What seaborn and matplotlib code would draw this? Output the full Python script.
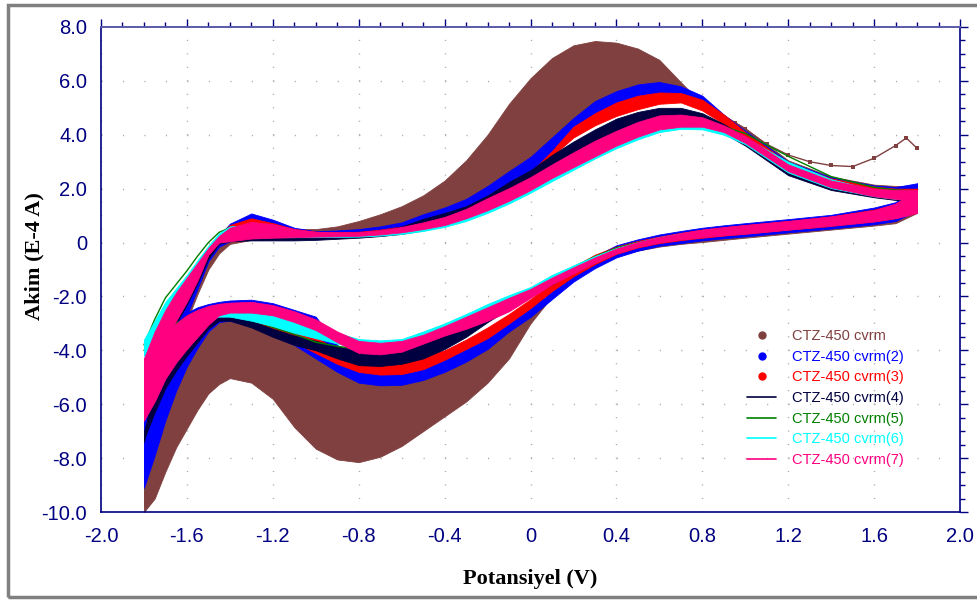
import matplotlib
import numpy as np
import seaborn as sns

matplotlib.use("Agg")
import matplotlib.pyplot as plt
from matplotlib.lines import Line2D
from matplotlib.patches import Rectangle
from matplotlib.ticker import MultipleLocator, FixedLocator, FixedFormatter

# potential grid (V) shared by every band edge
E = [-1.8, -1.75, -1.7, -1.65, -1.6, -1.55, -1.5, -1.45, -1.4, -1.3, -1.2, -1.1, -1.0,
     -0.9, -0.8, -0.7, -0.6, -0.5, -0.4, -0.3, -0.2, -0.1,
     0.0, 0.1, 0.2, 0.3, 0.4, 0.5, 0.6, 0.7, 0.8, 0.9,
     1.0, 1.2, 1.4, 1.6, 1.7, 1.8]

# current (E-4 A): upper (anodic) / lower (cathodic) branch, band top / bottom
c1_up_hi = [-7.0, -4.8, -3.3, -2.4, -1.6, -1.0, -0.5, 0.0, 0.4, 0.7, 0.6, 0.5, 0.5,
            0.6, 0.8, 1.05, 1.35, 1.75, 2.3, 3.05, 4.0, 5.15,
            6.1, 6.85, 7.32, 7.48, 7.42, 7.2, 6.78, 5.95, 5.15, 4.72,
            4.25, 3.05, 2.45, 2.15, 2.1, 2.1]
c1_up_lo = [-9.8, -7.5, -5.5, -4.0, -2.9, -1.9, -1.0, -0.4, -0.05, 0.1, 0.12, 0.12, 0.15,
            0.3, 0.4, 0.5, 0.65, 0.9, 1.2, 1.5, 1.9, 2.35,
            3.0, 3.65, 4.3, 4.85, 5.3, 5.6, 5.7, 5.5, 5.1, 4.5,
            3.9, 2.6, 2.0, 1.7, 1.62, 1.55]
c1_dn_hi = [-7.0, -5.6, -4.5, -3.8, -3.3, -3.0, -2.85, -2.8, -2.85, -3.1, -3.45, -3.75, -4.0,
            -4.5, -5.0, -5.1, -5.0, -4.8, -4.5, -4.1, -3.6, -3.05,
            -2.5, -1.85, -1.2, -0.75, -0.4, -0.15, 0.0, 0.1, 0.2, 0.28,
            0.35, 0.5, 0.65, 0.82, 0.95, 1.3]
c1_dn_lo = [-10.0, -9.5, -8.5, -7.6, -6.9, -6.2, -5.6, -5.25, -5.03, -5.2, -5.8, -6.85, -7.65,
            -8.05, -8.15, -7.95, -7.55, -7.0, -6.45, -5.9, -5.2, -4.3,
            -3.0, -2.0, -1.25, -0.8, -0.5, -0.3, -0.15, -0.05, 0.02, 0.1,
            0.18, 0.33, 0.48, 0.63, 0.72, 1.1]

c2_up_hi = [-6.6, -4.3, -3.0, -2.1, -1.5, -0.9, -0.3, 0.25, 0.7, 1.08, 0.85, 0.55, 0.42,
            0.45, 0.5, 0.6, 0.75, 1.05, 1.3, 1.62, 2.1, 2.65,
            3.18, 3.9, 4.62, 5.25, 5.62, 5.87, 5.96, 5.8, 5.45, 4.75,
            4.15, 3.0, 2.42, 2.12, 2.06, 2.2]
c2_up_lo = [-9.0, -6.5, -4.6, -3.5, -2.7, -1.7, -0.7, -0.15, 0.05, 0.15, 0.18, 0.2, 0.22,
            0.26, 0.3, 0.4, 0.55, 0.75, 1.0, 1.3, 1.6, 2.05,
            2.6, 3.3, 3.95, 4.45, 4.75, 5.05, 5.25, 5.25, 5.0, 4.45,
            3.8, 2.55, 2.0, 1.72, 1.62, 1.55]
c2_dn_hi = [-6.6, -4.6, -3.5, -3.0, -2.6, -2.4, -2.28, -2.2, -2.15, -2.12, -2.25, -2.5, -2.75,
            -3.8, -4.5, -4.6, -4.5, -4.4, -4.2, -3.8, -3.3, -2.8,
            -2.2, -1.5, -1.0, -0.5, -0.1, 0.12, 0.3, 0.43, 0.55, 0.64,
            0.72, 0.87, 1.03, 1.3, 1.5, 2.2]
c2_dn_lo = [-9.1, -7.9, -6.6, -5.5, -4.6, -3.9, -3.3, -2.95, -2.9, -3.1, -3.45, -3.8, -4.3,
            -4.8, -5.2, -5.3, -5.28, -5.1, -4.8, -4.42, -3.95, -3.3,
            -2.76, -2.1, -1.45, -0.95, -0.55, -0.3, -0.12, -0.02, 0.08, 0.16,
            0.23, 0.38, 0.52, 0.68, 0.8, 1.2]

c3_up_hi = [-6.2, -4.0, -2.9, -2.0, -1.4, -0.8, -0.25, 0.3, 0.65, 0.9, 0.72, 0.5, 0.4,
            0.38, 0.4, 0.48, 0.6, 0.78, 1.0, 1.3, 1.7, 2.1,
            2.6, 3.4, 4.3, 4.8, 5.2, 5.45, 5.57, 5.55, 5.3, 4.75,
            4.1, 2.95, 2.38, 2.08, 2.0, 2.0]
c3_up_lo = [-6.5, -5.0, -3.8, -2.9, -2.2, -1.4, -0.5, 0.0, 0.1, 0.2, 0.2, 0.2, 0.22,
            0.25, 0.3, 0.38, 0.45, 0.65, 0.8, 1.1, 1.4, 1.8,
            2.3, 3.2, 3.9, 4.35, 4.7, 4.95, 5.15, 5.2, 4.9, 4.4,
            3.75, 2.6, 2.02, 1.72, 1.63, 1.6]
c3_dn_hi = [-6.2, -4.6, -3.6, -3.0, -2.7, -2.5, -2.4, -2.3, -2.3, -2.35, -2.6, -3.0, -3.5,
            -4.0, -4.4, -4.45, -4.35, -4.2, -4.0, -3.6, -3.15, -2.65,
            -2.1, -1.5, -0.9, -0.45, -0.15, 0.06, 0.22, 0.36, 0.48, 0.57,
            0.65, 0.8, 0.97, 1.22, 1.42, 2.0]
c3_dn_lo = [-6.6, -5.8, -4.9, -4.2, -3.7, -3.3, -3.0, -2.85, -2.85, -3.0, -3.3, -3.7, -4.1,
            -4.5, -4.8, -4.9, -4.88, -4.7, -4.35, -3.95, -3.55, -3.0,
            -2.43, -1.8, -1.25, -0.8, -0.42, -0.18, -0.02, 0.09, 0.18, 0.26,
            0.33, 0.48, 0.62, 0.8, 0.92, 1.3]

c4_up_hi = [-7.2, -5.0, -3.4, -2.5, -1.8, -1.1, -0.5, 0.0, 0.3, 0.4, 0.35, 0.3, 0.3,
            0.3, 0.35, 0.45, 0.6, 0.88, 1.1, 1.35, 1.75, 2.25,
            2.69, 3.25, 3.75, 4.2, 4.6, 4.85, 5.0, 5.0, 4.8, 4.4,
            3.9, 2.8, 2.2, 1.9, 1.8, 1.8]
c4_up_lo = [-7.4, -5.6, -4.0, -3.0, -2.3, -1.5, -0.6, -0.05, 0.05, 0.08, 0.08, 0.08, 0.1,
            0.14, 0.18, 0.24, 0.32, 0.45, 0.62, 0.85, 1.15, 1.5,
            1.9, 2.35, 2.8, 3.25, 3.65, 4.0, 4.3, 4.4, 4.35, 4.05,
            3.6, 2.5, 1.95, 1.68, 1.58, 1.5]
c4_dn_hi = [-7.0, -5.6, -4.5, -3.7, -3.2, -2.9, -2.7, -2.6, -2.65, -2.9, -3.2, -3.45, -3.65,
            -3.85, -4.0, -4.05, -4.0, -3.72, -3.45, -3.1, -2.75, -2.3,
            -1.9, -1.45, -1.0, -0.6, -0.25, -0.02, 0.15, 0.3, 0.4, 0.48,
            0.55, 0.7, 0.85, 1.05, 1.25, 1.6]
c4_dn_lo = [-7.3, -6.3, -5.4, -4.75, -4.2, -3.7, -3.2, -2.9, -2.9, -3.15, -3.5, -3.8, -4.0,
            -4.3, -4.55, -4.58, -4.5, -4.3, -3.95, -3.5, -2.95, -2.45,
            -2.0, -1.55, -1.1, -0.7, -0.35, -0.12, 0.05, 0.16, 0.25, 0.32,
            0.38, 0.5, 0.62, 0.8, 0.9, 1.3]

c5_up = [-3.8, -2.85, -2.05, -1.55, -1.05, -0.5, 0.0, 0.38, 0.55, 0.62, 0.52, 0.4, 0.3,
         0.28, 0.28, 0.35, 0.45, 0.6, 0.8, 1.08, 1.4, 1.78,
         2.2, 2.65, 3.1, 3.5, 3.85, 4.12, 4.3, 4.42, 4.45, 4.3,
         4.05, 3.2, 2.45, 2.05, 1.95, 1.9]
c5_dn = [-4.0, -3.6, -3.3, -3.0, -2.8, -2.65, -2.6, -2.55, -2.6, -2.85, -3.15, -3.4, -3.7,
         -3.85, -3.95, -4.0, -3.85, -3.65, -3.4, -3.05, -2.65, -2.22,
         -1.8, -1.35, -0.9, -0.52, -0.2, 0.0, 0.15, 0.27, 0.35, 0.43,
         0.5, 0.65, 0.8, 1.0, 1.15, 1.5]

c6_up_hi = [-3.6, -2.9, -2.2, -1.7, -1.2, -0.65, -0.12, 0.35, 0.6, 0.65, 0.55, 0.42, 0.32,
            0.3, 0.3, 0.38, 0.48, 0.64, 0.85, 1.15, 1.5, 1.88,
            2.3, 2.75, 3.2, 3.58, 3.9, 4.15, 4.35, 4.45, 4.45, 4.25,
            3.9, 3.0, 2.35, 1.95, 1.85, 1.85]
c6_up_lo = [-4.2, -3.4, -2.7, -2.05, -1.5, -0.95, -0.4, 0.05, 0.15, 0.18, 0.2, 0.2, 0.2,
            0.21, 0.22, 0.26, 0.32, 0.43, 0.58, 0.8, 1.1, 1.45,
            1.85, 2.28, 2.7, 3.12, 3.5, 3.83, 4.1, 4.22, 4.2, 4.0,
            3.65, 2.6, 2.02, 1.72, 1.62, 1.55]
c6_dn_hi = [-3.7, -3.5, -3.3, -3.05, -2.8, -2.55, -2.4, -2.3, -2.3, -2.4, -2.6, -2.85, -3.1,
            -3.35, -3.58, -3.63, -3.58, -3.3, -3.0, -2.65, -2.28, -1.95,
            -1.65, -1.2, -0.85, -0.5, -0.2, 0.02, 0.2, 0.34, 0.45, 0.53,
            0.6, 0.75, 0.9, 1.1, 1.3, 1.85]
c6_dn_lo = [-4.2, -3.9, -3.7, -3.45, -3.2, -3.0, -2.85, -2.75, -2.75, -2.9, -3.1, -3.35, -3.55,
            -3.75, -3.9, -3.95, -3.85, -3.65, -3.35, -3.0, -2.6, -2.22,
            -1.85, -1.4, -1.0, -0.62, -0.32, -0.1, 0.08, 0.2, 0.28, 0.35,
            0.42, 0.57, 0.72, 0.92, 1.08, 1.6]

c7_up_hi = [-4.3, -3.3, -2.5, -1.85, -1.3, -0.75, -0.2, 0.25, 0.55, 0.77, 0.68, 0.5, 0.4,
            0.38, 0.38, 0.46, 0.58, 0.75, 0.95, 1.25, 1.65, 2.02,
            2.43, 2.9, 3.35, 3.78, 4.15, 4.48, 4.72, 4.75, 4.65, 4.35,
            3.95, 2.9, 2.3, 2.0, 1.95, 1.95]
c7_up_lo = [-6.6, -5.0, -3.7, -2.9, -2.2, -1.4, -0.45, 0.0, 0.05, 0.15, 0.18, 0.2, 0.22,
            0.23, 0.25, 0.3, 0.38, 0.5, 0.65, 0.9, 1.2, 1.55,
            1.95, 2.4, 2.8, 3.2, 3.6, 3.93, 4.2, 4.3, 4.3, 4.1,
            3.7, 2.65, 2.05, 1.72, 1.62, 1.55]
c7_dn_hi = [-4.3, -3.9, -3.45, -3.0, -2.7, -2.5, -2.35, -2.27, -2.23, -2.2, -2.32, -2.55, -2.85,
            -3.3, -3.65, -3.72, -3.65, -3.42, -3.1, -2.75, -2.4, -2.05,
            -1.72, -1.3, -0.92, -0.55, -0.22, 0.02, 0.2, 0.35, 0.48, 0.57,
            0.65, 0.8, 0.97, 1.2, 1.45, 1.95]
c7_dn_lo = [-6.6, -5.9, -5.05, -4.45, -3.95, -3.5, -3.05, -2.7, -2.6, -2.6, -2.7, -2.95, -3.25,
            -3.7, -4.1, -4.15, -4.05, -3.75, -3.45, -3.2, -2.9, -2.55,
            -2.05, -1.55, -1.15, -0.75, -0.4, -0.16, 0.0, 0.11, 0.2, 0.27,
            0.33, 0.48, 0.62, 0.78, 0.9, 1.1]

# first brown cycle, separated from the bundle on the right
tail_E = [0.95, 1.0, 1.1, 1.2, 1.3, 1.4, 1.5, 1.6, 1.7, 1.75, 1.8]
tail_I = [4.45, 4.2, 3.65, 3.25, 3.0, 2.86, 2.82, 3.13, 3.6, 3.88, 3.5]

labels = ["CTZ-450 cvrm", "CTZ-450 cvrm(2)", "CTZ-450 cvrm(3)", "CTZ-450 cvrm(4)",
          "CTZ-450 cvrm(5)", "CTZ-450 cvrm(6)", "CTZ-450 cvrm(7)"]
colors = ["#804040", "#0000ff", "#ff0000", "#000040", "#008000", "#00ffff", "#ff0080"]

x_ticks = [-2.0, -1.6, -1.2, -0.8, -0.4, 0.0, 0.4, 0.8, 1.2, 1.6, 2.0]
x_tick_labels = ["-2.0", "-1.6", "-1.2", "-0.8", "-0.4", "0", "0.4", "0.8", "1.2", "1.6", "2.0"]
y_ticks = [-10, -8, -6, -4, -2, 0, 2, 4, 6, 8]
y_tick_labels = ["-10.0", "-8.0", "-6.0", "-4.0", "-2.0", "0", "2.0", "4.0", "6.0", "8.0"]

NAVY = "#000080"

sns.set_theme(style="white")
plt.rcParams["font.family"] = ["Liberation Sans", "DejaVu Sans"]

fig = plt.figure(figsize=(9.78, 6.01), dpi=100)
ax = fig.add_axes([101 / 978, 89 / 601, 859 / 978, 485 / 601])

bands = [
    (c1_up_hi, c1_up_lo, c1_dn_hi, c1_dn_lo),
    (c2_up_hi, c2_up_lo, c2_dn_hi, c2_dn_lo),
    (c3_up_hi, c3_up_lo, c3_dn_hi, c3_dn_lo),
    (c4_up_hi, c4_up_lo, c4_dn_hi, c4_dn_lo),
    None,
    (c6_up_hi, c6_up_lo, c6_dn_hi, c6_dn_lo),
    (c7_up_hi, c7_up_lo, c7_dn_hi, c7_dn_lo),
]

# series are stacked in order: later runs cover earlier ones
for i, b in enumerate(bands):
    col = colors[i]
    z = 2 + i * 0.1
    if b is None:
        sns.lineplot(x=E, y=c5_up, ax=ax, color=col, lw=1.0, sort=False, zorder=z)
        sns.lineplot(x=E, y=c5_dn, ax=ax, color=col, lw=1.0, sort=False, zorder=z)
        continue
    up_hi, up_lo, dn_hi, dn_lo = b
    ax.fill_between(E, up_lo, up_hi, facecolor=col, edgecolor=col, lw=0.6, zorder=z)
    ax.fill_between(E, dn_lo, dn_hi, facecolor=col, edgecolor=col, lw=0.6, zorder=z)
    if i == 0:
        sns.lineplot(x=tail_E, y=tail_I, ax=ax, color=col, lw=1.0, marker="s",
                     markersize=2.2, markeredgewidth=0, sort=False, zorder=z)

ax.set_xlim(-2.0, 2.0)
ax.set_ylim(-10.0, 8.0)
ax.xaxis.set_major_locator(FixedLocator(x_ticks))
ax.xaxis.set_major_formatter(FixedFormatter(x_tick_labels))
ax.yaxis.set_major_locator(FixedLocator(y_ticks))
ax.yaxis.set_major_formatter(FixedFormatter(y_tick_labels))
ax.xaxis.set_minor_locator(MultipleLocator(0.1))
ax.yaxis.set_minor_locator(MultipleLocator(0.5))

ax.tick_params(axis="both", which="both", direction="out", top=True, right=True,
               labeltop=False, labelright=False, color=NAVY, width=1.0)
ax.tick_params(axis="both", which="major", length=6, labelsize=14.5, labelcolor=NAVY)
ax.tick_params(axis="y", which="major", pad=4)
ax.tick_params(axis="x", which="major", pad=5)
ax.tick_params(axis="both", which="minor", length=3.5)

for side in ["left", "right", "bottom"]:
    ax.spines[side].set_color(NAVY)
    ax.spines[side].set_linewidth(1.2)
ax.spines["top"].set_color("#5a5aa8")
ax.spines["top"].set_linewidth(1.4)

# dotted grid: dots at minor steps along the major lines
ax.xaxis.grid(True, which="major", color="#a8a8a8", lw=1.0, linestyle=(0, (0.8, 8.9)))
ax.yaxis.grid(True, which="major", color="#a8a8a8", lw=1.0, linestyle=(0, (0.8, 14.66)))
ax.set_axisbelow(True)

ax.set_xlabel("Potansiyel (V)", fontsize=16, fontweight="bold",
              family=["Liberation Serif", "DejaVu Serif"], color="black")
ax.set_ylabel("Akim (E-4 A)", fontsize=16, fontweight="bold",
              family=["Liberation Serif", "DejaVu Serif"], color="black")
ax.xaxis.set_label_coords(0.5, -0.118)
ax.yaxis.set_label_coords(-0.066, 0.528)

handles = []
for i, col in enumerate(colors):
    if i < 3:
        handles.append(Line2D([], [], ls="none", marker="o", color=col, markersize=5))
    else:
        handles.append(Line2D([], [], color=col, lw=1.2))
leg = ax.legend(handles, labels, loc="upper left", bbox_to_anchor=(0.752, 0.377),
                frameon=False, fontsize=10.5, labelcolor=colors, handlelength=2.0,
                handletextpad=1.1, labelspacing=0.455, borderpad=0, borderaxespad=0)
leg.set_zorder(5)

fig.patches.append(Rectangle((8 / 978, 4 / 601), 975 / 978, 592 / 601,
                             transform=fig.transFigure, fill=False,
                             edgecolor="#808080", lw=2.5))

fig.savefig("out.png", dpi=100)
